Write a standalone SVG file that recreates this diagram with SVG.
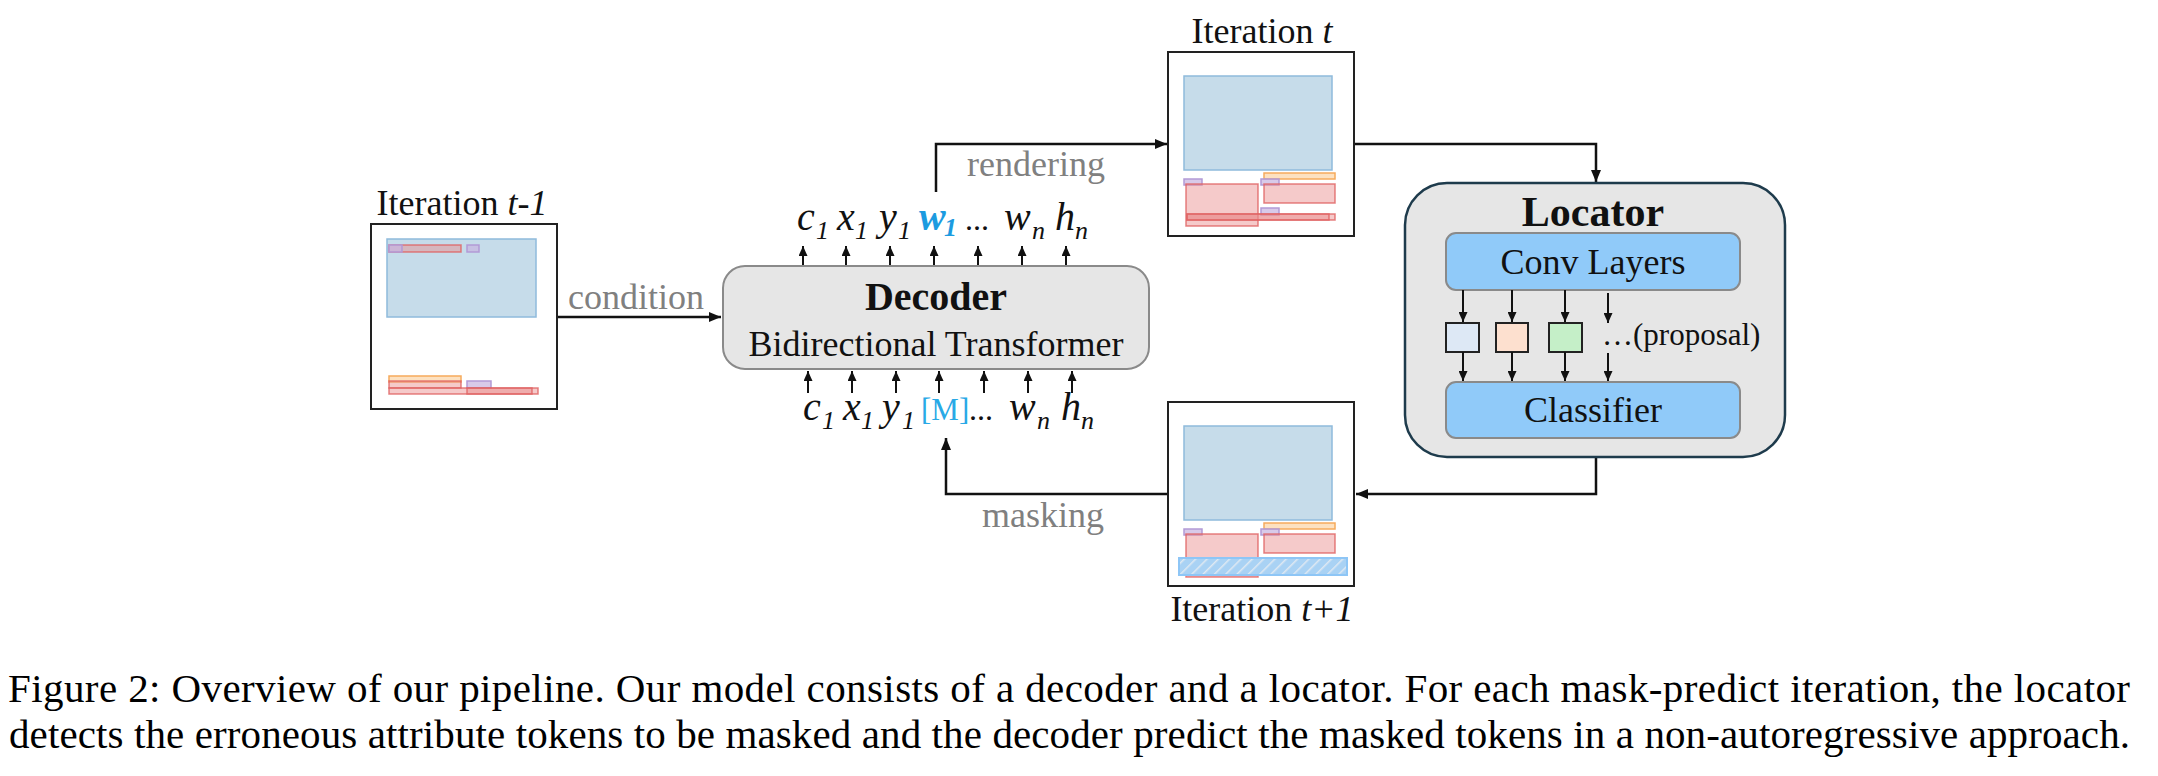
<svg xmlns="http://www.w3.org/2000/svg" width="2158" height="776" viewBox="0 0 2158 776">
<style>
  .serif { font-family: "Liberation Serif", "Times New Roman", serif; }
  .lbl { font-family: "Liberation Serif", "Times New Roman", serif; font-size: 36px; fill: #111; }
  .gray { font-family: "Liberation Serif", "Times New Roman", serif; font-size: 36px; fill: #808080; }
  .tok { font-family: "Liberation Serif", "Times New Roman", serif; font-size: 40px; font-style: italic; fill: #111; }
  .sub { font-family: "Liberation Serif", "Times New Roman", serif; font-size: 26px; font-style: italic; fill: #111; }
  .dots { font-family: "Liberation Serif", "Times New Roman", serif; font-size: 32px; fill: #111; }
  .frame { fill: #ffffff; stroke: #222; stroke-width: 2; }
  .bg { fill: #c6dcea; stroke: #8fbbdc; stroke-width: 1.5; }
  .red { fill: #e88a8a; fill-opacity: 0.45; stroke: #e06060; stroke-opacity: 0.8; stroke-width: 1.5; }
  .org { fill: #fcd9b0; fill-opacity: 0.8; stroke: #f6ab5c; stroke-width: 1.5; }
  .pur { fill: #c8b4e0; fill-opacity: 0.7; stroke: #b29ad6; stroke-width: 1.5; }
  .conn { fill: none; stroke: #111; stroke-width: 2.5; }
  .tarr { fill: none; stroke: #111; stroke-width: 2; }
  .cap { font-family: "Liberation Serif", "Times New Roman", serif; font-size: 41px; fill: #000; }
</style>
<defs>
  <marker id="ah" markerWidth="12" markerHeight="10" refX="12" refY="5" orient="auto" markerUnits="userSpaceOnUse">
    <path d="M0,0 L12,5 L0,10 z" fill="#111"/>
  </marker>
  <marker id="ahs" markerWidth="10" markerHeight="9" refX="10" refY="4.5" orient="auto" markerUnits="userSpaceOnUse">
    <path d="M0,0 L10,4.5 L0,9 z" fill="#111"/>
  </marker>
  <pattern id="hatch" width="8" height="8" patternUnits="userSpaceOnUse" patternTransform="rotate(45)">
    <rect width="8" height="8" fill="#a9d2f4"/>
    <line x1="0" y1="0" x2="0" y2="8" stroke="#dfe9f2" stroke-width="3"/>
  </pattern>
</defs>

<!-- Connectors -->
<g id="connectors">
  <path class="conn" d="M557,317 H721" marker-end="url(#ah)"/>
  <path class="conn" d="M936,192 V144 H1167" marker-end="url(#ah)"/>
  <path class="conn" d="M1354,144 H1596 V182" marker-end="url(#ah)"/>
  <path class="conn" d="M1596,457 V494 H1356" marker-end="url(#ah)"/>
  <path class="conn" d="M1168,494 H946 V438" marker-end="url(#ah)"/>
  <g id="token-arrows">
    <path class="tarr" d="M803,266 V246" marker-end="url(#ahs)"/>
    <path class="tarr" d="M846,266 V246" marker-end="url(#ahs)"/>
    <path class="tarr" d="M890,266 V246" marker-end="url(#ahs)"/>
    <path class="tarr" d="M934,266 V246" marker-end="url(#ahs)"/>
    <path class="tarr" d="M978,266 V246" marker-end="url(#ahs)"/>
    <path class="tarr" d="M1022,266 V246" marker-end="url(#ahs)"/>
    <path class="tarr" d="M1066,266 V246" marker-end="url(#ahs)"/>
    <path class="tarr" d="M808,393 V371" marker-end="url(#ahs)"/>
    <path class="tarr" d="M852,393 V371" marker-end="url(#ahs)"/>
    <path class="tarr" d="M896,393 V371" marker-end="url(#ahs)"/>
    <path class="tarr" d="M939,393 V371" marker-end="url(#ahs)"/>
    <path class="tarr" d="M984,393 V371" marker-end="url(#ahs)"/>
    <path class="tarr" d="M1028,393 V371" marker-end="url(#ahs)"/>
    <path class="tarr" d="M1072,393 V371" marker-end="url(#ahs)"/>
  </g>
  <text class="gray" x="568" y="309">condition</text>
  <text class="gray" x="967" y="176">rendering</text>
  <text class="gray" x="982" y="527">masking</text>
</g>

<!-- Iteration t-1 -->
<g id="iter-tm1">
  <text class="lbl" x="462" y="215" text-anchor="middle">Iteration <tspan font-style="italic">t-1</tspan></text>
  <rect class="frame" x="371" y="224" width="186" height="185"/>
  <rect class="bg" x="387" y="239" width="149" height="78"/>
  <rect class="red" x="389" y="245" width="72" height="7"/>
  <rect class="pur" x="389" y="245" width="13" height="7"/>
  <rect class="pur" x="467" y="245" width="12" height="7"/>
  <rect class="org" x="389" y="376" width="72" height="6"/>
  <rect class="red" x="389" y="381" width="72" height="7"/>
  <rect class="pur" x="467" y="381" width="24" height="7"/>
  <rect class="red" x="389" y="388" width="149" height="6"/>
  <rect class="red" x="467" y="388" width="65" height="6"/>
</g>

<!-- Decoder -->
<g id="decoder">
  <rect x="723" y="266" width="426" height="103" rx="22" fill="#e6e6e6" stroke="#8a8a8a" stroke-width="2"/>
  <text class="serif" x="936" y="310" text-anchor="middle" font-size="40" font-weight="bold" fill="#111">Decoder</text>
  <text class="lbl" x="936" y="356" text-anchor="middle">Bidirectional Transformer</text>
</g>

<!-- Output tokens -->
<g id="out-tokens">
  <text class="tok" x="797" y="230">c</text><text class="sub" x="816" y="239">1</text>
  <text class="tok" x="837" y="230">x</text><text class="sub" x="855" y="239">1</text>
  <text class="tok" x="879" y="230">y</text><text class="sub" x="898" y="239">1</text>
  <text class="tok" x="919" y="230" font-weight="bold" style="fill:#1c9be0" font-size="30">w</text><text class="sub" x="944" y="236" font-weight="bold" style="fill:#1c9be0" font-size="22">1</text>
  <text class="dots" x="965" y="230">...</text>
  <text class="tok" x="1004" y="230">w</text><text class="sub" x="1032" y="239">n</text>
  <text class="tok" x="1055" y="230">h</text><text class="sub" x="1075" y="239">n</text>
</g>

<!-- Input tokens -->
<g id="in-tokens">
  <text class="tok" x="803" y="420">c</text><text class="sub" x="822" y="429">1</text>
  <text class="tok" x="843" y="420">x</text><text class="sub" x="861" y="429">1</text>
  <text class="tok" x="882" y="420">y</text><text class="sub" x="902" y="429">1</text>
  <text class="serif" x="921" y="420" font-size="31" style="fill:#29a9e6">[M]</text>
  <text class="dots" x="969" y="420">...</text>
  <text class="tok" x="1009" y="420">w</text><text class="sub" x="1037" y="429">n</text>
  <text class="tok" x="1061" y="420">h</text><text class="sub" x="1081" y="429">n</text>
</g>

<!-- Iteration t -->
<g id="iter-t">
  <text class="lbl" x="1262" y="43" text-anchor="middle">Iteration <tspan font-style="italic">t</tspan></text>
  <rect class="frame" x="1168" y="52" width="186" height="184"/>
  <rect class="bg" x="1184" y="76" width="148" height="94"/>
  <rect class="pur" x="1184" y="179" width="18" height="6"/>
  <rect class="red" x="1186" y="184" width="72" height="42"/>
  <rect class="org" x="1264" y="173" width="71" height="6"/>
  <rect class="pur" x="1261" y="179" width="18" height="6"/>
  <rect class="red" x="1264" y="184" width="71" height="19"/>
  <rect class="pur" x="1261" y="208" width="18" height="7"/>
  <rect class="red" x="1187" y="214" width="148" height="6"/>
  <rect class="red" x="1187" y="214" width="142" height="6"/>
</g>

<!-- Iteration t+1 -->
<g id="iter-tp1">
  <rect class="frame" x="1168" y="402" width="186" height="184"/>
  <rect class="bg" x="1184" y="426" width="148" height="94"/>
  <rect class="pur" x="1184" y="529" width="18" height="6"/>
  <rect class="red" x="1186" y="534" width="72" height="43"/>
  <rect class="org" x="1264" y="523" width="71" height="6"/>
  <rect class="pur" x="1261" y="529" width="18" height="6"/>
  <rect class="red" x="1264" y="534" width="71" height="19"/>
  <rect x="1179" y="558" width="168" height="17" fill="url(#hatch)" stroke="#8ec6f6" stroke-width="2"/>
  <text class="lbl" x="1262" y="621" text-anchor="middle">Iteration <tspan font-style="italic">t+1</tspan></text>
</g>

<!-- Locator -->
<g id="locator">
  <rect x="1405" y="183" width="380" height="274" rx="42" fill="#e6e6e6" stroke="#1e3b4c" stroke-width="2.5"/>
  <text class="serif" x="1593" y="226" text-anchor="middle" font-size="42" font-weight="bold" fill="#111">Locator</text>
  <g id="conv-layers">
    <rect x="1446" y="233" width="294" height="57" rx="10" fill="#90caf9" stroke="#8a8a8a" stroke-width="2"/>
    <text class="lbl" x="1593" y="274" text-anchor="middle">Conv Layers</text>
  </g>
  <g id="classifier">
    <rect x="1446" y="382" width="294" height="56" rx="10" fill="#90caf9" stroke="#8a8a8a" stroke-width="2"/>
    <text class="lbl" x="1593" y="422" text-anchor="middle">Classifier</text>
  </g>
  <g id="proposals">
    <rect x="1446" y="323" width="33" height="29" fill="#dde8f5" stroke="#222" stroke-width="2"/>
    <rect x="1496" y="323" width="32" height="29" fill="#fde0cf" stroke="#222" stroke-width="2"/>
    <rect x="1549" y="323" width="33" height="29" fill="#c5efc8" stroke="#222" stroke-width="2"/>
    <text class="serif" x="1602" y="345" font-size="31" fill="#111">…(proposal)</text>
  </g>
  <g id="locator-arrows">
    <path class="tarr" d="M1463,290 V322" marker-end="url(#ahs)"/>
    <path class="tarr" d="M1512,290 V322" marker-end="url(#ahs)"/>
    <path class="tarr" d="M1565,290 V322" marker-end="url(#ahs)"/>
    <path class="tarr" d="M1608,293 V323" marker-end="url(#ahs)"/>
    <path class="tarr" d="M1463,352 V381" marker-end="url(#ahs)"/>
    <path class="tarr" d="M1512,352 V381" marker-end="url(#ahs)"/>
    <path class="tarr" d="M1565,352 V381" marker-end="url(#ahs)"/>
    <path class="tarr" d="M1608,353 V381" marker-end="url(#ahs)"/>
  </g>
</g>

<!-- Caption -->
<g id="caption">
  <text class="cap" x="8" y="702" textLength="2122" lengthAdjust="spacing">Figure 2: Overview of our pipeline. Our model consists of a decoder and a locator. For each mask-predict iteration, the locator</text>
  <text class="cap" x="9" y="748" textLength="2121" lengthAdjust="spacing">detects the erroneous attribute tokens to be masked and the decoder predict the masked tokens in a non-autoregressive approach.</text>
</g>
</svg>
